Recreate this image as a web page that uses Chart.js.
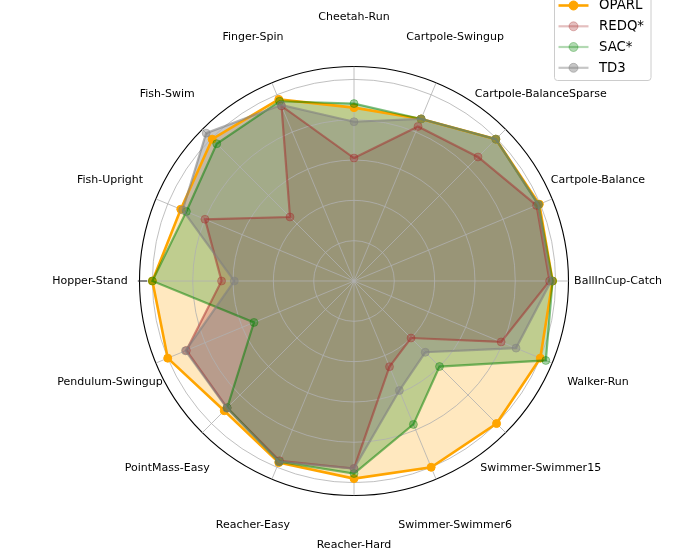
<!DOCTYPE html>
<html><head><meta charset="utf-8">
<script src="https://cdn.jsdelivr.net/npm/chart.js@4.4.1/dist/chart.umd.min.js"></script>
<style>html,body{margin:0;padding:0;background:#fff;}canvas{display:block;}</style>
</head><body>
<canvas id="c" width="690" height="558"></canvas>
<script>
const categories = ['Cheetah-Run','Cartpole-Swingup','Cartpole-BalanceSparse','Cartpole-Balance','BallInCup-Catch','Walker-Run','Swimmer-Swimmer15','Swimmer-Swimmer6','Reacher-Hard','Reacher-Easy','PointMass-Easy','Pendulum-Swingup','Hopper-Stand','Fish-Upright','Fish-Swim','Finger-Spin'];
const seriesNames = ['OPARL','REDQ*','SAC*','TD3'];
const oparl = [0.86, 0.87, 0.995, 0.995, 0.985, 1.00, 1.00, 1.00, 0.98, 0.975, 0.91, 1.00, 1.00, 0.93, 0.995, 0.975];
const redq  = [0.61, 0.83, 0.87, 0.98, 0.97, 0.79, 0.40, 0.46, 0.93, 0.965, 0.89, 0.90, 0.657, 0.80, 0.449, 0.94];
const sac   = [0.88, 0.87, 0.995, 0.99, 0.985, 1.03, 0.60, 0.77, 0.955, 0.97, 0.89, 0.537, 1.00, 0.90, 0.963, 0.965];
const td3   = [0.79, 0.87, 0.995, 0.99, 0.978, 0.87, 0.50, 0.588, 0.93, 0.97, 0.892, 0.905, 0.594, 0.92, 1.037, 0.945];
const radialTicks = [0, 0.2, 0.4, 0.6, 0.8, 1.0];
const radialMax = 1.064;

const seriesValues = [oparl, redq, sac, td3];
const seriesRGB = ['255,165,0', '165,42,42', '0,128,0', '128,128,128'];
const fillAlpha = [0.25, 0.28, 0.25, 0.45];
const lineAlpha = [1, 0.5, 0.5, 0.6];
const pointAlpha = [1, 0.35, 0.35, 0.45];
const legendAlpha = [1, 0.3, 0.3, 0.45];
const LABEL_R = 1.31;

const rgba = (c, a) => `rgba(${c},${a})`;
let gridOn = false;
const GRID_COLOR = '#b0b0b0';

const datasets = seriesNames.map((name, i) => ({
  label: name,
  data: seriesValues[i],
  order: seriesNames.length - i,
  fill: 'origin',
  backgroundColor: rgba(seriesRGB[i], fillAlpha[i]),
  borderColor: rgba(seriesRGB[i], lineAlpha[i]),
  borderWidth: i === 0 ? 2.6 : 2.2,
  pointRadius: 4,
  pointBorderWidth: 1,
  pointBackgroundColor: rgba(seriesRGB[i], pointAlpha[i]),
  pointBorderColor: rgba(seriesRGB[i], pointAlpha[i]),
}));

const overlay = {
  id: 'overlay',
  beforeDatasetsDraw(chart) {
    // grid above the fills, below the lines
    const s = chart.scales.r;
    const ctx = chart.ctx;
    ctx.save();
    gridOn = true;
    s.drawGrid();
    gridOn = false;
    ctx.restore();
  },
  afterDraw(chart) {
    const s = chart.scales.r;
    const ctx = chart.ctx;
    ctx.save();
    ctx.font = '11px "DejaVu Sans"';
    ctx.fillStyle = '#000';
    ctx.textAlign = 'center';
    ctx.textBaseline = 'middle';
    categories.forEach((c, i) => {
      const p = s.getPointPositionForValue(i, LABEL_R);
      ctx.fillText(c, p.x, p.y);
    });
    const hi = s.getPointPositionForValue(12, radialMax * 1.008);
    const lo = s.getPointPositionForValue(12, radialMax * 0.965);
    ctx.strokeStyle = '#000'; ctx.lineWidth = 0.8;
    ctx.beginPath(); ctx.moveTo(hi.x, hi.y); ctx.lineTo(lo.x, lo.y); ctx.stroke();

    // legend
    const bx = 554.5, by = -20, bw = 96.5, bh = 100.5;
    ctx.beginPath();
    ctx.roundRect(bx, by, bw, bh, 3);
    ctx.fillStyle = 'rgba(255,255,255,0.8)';
    ctx.fill();
    ctx.strokeStyle = '#cccccc'; ctx.lineWidth = 1;
    ctx.stroke();
    const rowY = [5.5, 26.3, 47, 67.8];
    ctx.font = '13.3px "DejaVu Sans"';
    ctx.textAlign = 'left';
    seriesNames.forEach((n, i) => {
      const y = rowY[i];
      const col = rgba(seriesRGB[i], legendAlpha[i]);
      ctx.strokeStyle = col;
      ctx.lineWidth = i === 0 ? 2.6 : 2.2;
      ctx.beginPath(); ctx.moveTo(558.5, y); ctx.lineTo(588.5, y); ctx.stroke();
      ctx.beginPath(); ctx.arc(573.5, y, 4.5, 0, Math.PI * 2);
      ctx.fillStyle = col; ctx.fill();
      ctx.lineWidth = 1; ctx.stroke();
      ctx.fillStyle = '#000';
      ctx.fillText(n, 599, y + 0.5);
    });
    ctx.restore();
  }
};

new Chart(document.getElementById('c'), {
  type: 'radar',
  data: { labels: categories, datasets },
  options: {
    responsive: false,
    animation: false,
    devicePixelRatio: 1,
    plugins: {
      legend: { display: false },
      tooltip: { enabled: false },
      filler: { drawTime: 'beforeDatasetsDraw' }
    },
    elements: { line: { tension: 0 } },
    scales: {
      r: {
        min: 0,
        max: radialMax,
        afterBuildTicks: (scale) => {
          scale.ticks = radialTicks.concat([radialMax]).map(v => ({ value: v }));
        },
        afterFit: (scale) => {
          scale.xCenter = 354;
          scale.yCenter = 281;
          scale.drawingArea = 214.5;
        },
        ticks: { display: false },
        pointLabels: { display: false },
        grid: {
          circular: true,
          color: (ctx) => !gridOn ? 'rgba(0,0,0,0)' : ((ctx.tick && ctx.tick.value === radialMax) ? '#000' : GRID_COLOR),
          lineWidth: (ctx) => (ctx.tick && ctx.tick.value === radialMax) ? 1.1 : 0.8,
        },
        angleLines: {
          color: () => gridOn ? GRID_COLOR : 'rgba(0,0,0,0)',
          lineWidth: 0.8
        },
      }
    }
  },
  plugins: [overlay]
});
</script>
</body></html>
